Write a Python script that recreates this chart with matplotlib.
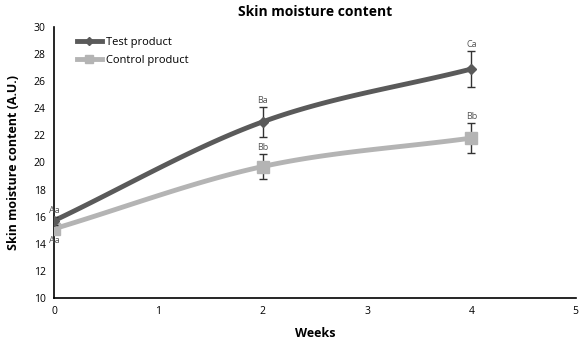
import numpy as np
import matplotlib.pyplot as plt

weeks = [0, 2, 4]
test_mean = [15.7, 23.0, 26.9]
test_err = [0.3, 1.1, 1.35]
control_mean = [15.1, 19.7, 21.8]
control_err = [0.4, 0.9, 1.1]
test_letters = ["Aa", "Ba", "Ca"]
control_letters = ["Aa", "Bb", "Bb"]


def smooth(x, y, n=40):
    # catmull-rom curve through the points, like excel's smoothed line
    x = np.asarray(x, float)
    y = np.asarray(y, float)
    px = np.concatenate([[2 * x[0] - x[1]], x, [2 * x[-1] - x[-2]]])
    py = np.concatenate([[2 * y[0] - y[1]], y, [2 * y[-1] - y[-2]]])
    xs, ys = [], []
    t = np.linspace(0, 1, n)
    for i in range(1, len(px) - 2):
        for p, out in ((px, xs), (py, ys)):
            p0, p1, p2, p3 = p[i - 1:i + 3]
            out.append(0.5 * (2 * p1 + (-p0 + p2) * t
                              + (2 * p0 - 5 * p1 + 4 * p2 - p3) * t ** 2
                              + (-p0 + 3 * p1 - 3 * p2 + p3) * t ** 3))
    return np.concatenate(xs), np.concatenate(ys)


plt.rcParams['font.family'] = ['Open Sans', 'DejaVu Sans']
fig = plt.figure(figsize=(5.81, 3.42), dpi=100)
ax = fig.add_axes([0.093, 0.129, 0.898, 0.792])

dark = "#5a5a5a"
light = "#b4b4b4"

sx, sy = smooth(weeks, control_mean)
ax.plot(sx, sy, color=light, lw=3.5, solid_capstyle="round", zorder=2)
ax.errorbar(weeks, control_mean, yerr=control_err, fmt="s", color=light,
            ms=9, ecolor="#333333", elinewidth=1, capsize=3, capthick=1, zorder=3)
sx, sy = smooth(weeks, test_mean)
ax.plot(sx, sy, color=dark, lw=3.5, solid_capstyle="round", zorder=4)
ax.errorbar(weeks, test_mean, yerr=test_err, fmt="D", color=dark,
            ms=5, ecolor="#333333", elinewidth=1, capsize=3, capthick=1, zorder=5)

for i, w in enumerate(weeks):
    ax.text(w, test_mean[i] + test_err[i] + 0.15, test_letters[i], ha="center",
            va="bottom", fontsize=6.5, color="#555555")
    if i == 0:
        ax.text(w, control_mean[i] - control_err[i] - 0.15, control_letters[i],
                ha="center", va="top", fontsize=6.5, color="#555555")
    else:
        ax.text(w, control_mean[i] + control_err[i] + 0.15, control_letters[i],
                ha="center", va="bottom", fontsize=6.5, color="#555555")

ax.plot([], [], color=dark, lw=3.5, marker="D", ms=4, label="Test product")
ax.plot([], [], color=light, lw=3.5, marker="s", ms=6, label="Control product")
ax.legend(loc="upper left", bbox_to_anchor=(0.025, 1.0), frameon=False,
          fontsize=8, handlelength=2.2, handletextpad=0.4, labelspacing=0.6)

ax.set_xlim(0, 5)
ax.set_ylim(10, 30)
ax.set_xticks(range(6))
ax.set_yticks(range(10, 31, 2))
ax.tick_params(length=0, labelsize=7.5, pad=6)
for s in ["top", "right"]:
    ax.spines[s].set_visible(False)
ax.spines["left"].set_linewidth(1.2)
ax.spines["bottom"].set_linewidth(1.2)

ax.set_title("Skin moisture content", fontsize=10, fontweight="bold", pad=8)
ax.set_xlabel("Weeks", fontsize=9, fontweight="bold", labelpad=7)
ax.set_ylabel("Skin moisture content (A.U.)", fontsize=9, fontweight="bold", labelpad=10)

fig.savefig("out.png", dpi=100)
